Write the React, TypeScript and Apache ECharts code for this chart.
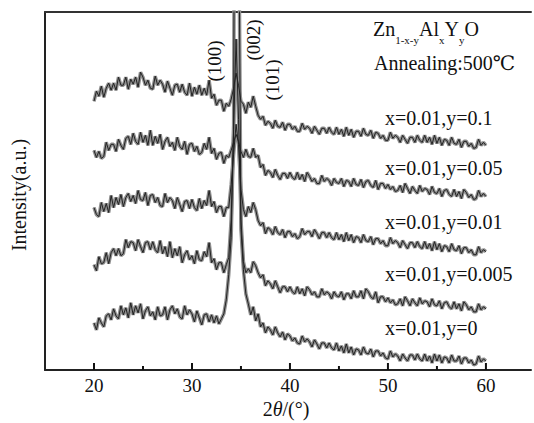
import React, { useEffect, useRef } from "react";
import * as echarts from "echarts";

// 2θ sampling grid: 20° → 60°, every 0.25°
const twoTheta: number[] = Array.from({ length: 161 }, (_, i) => 20 + i * 0.25);

// Intensities (a.u., stacked offsets included), one row per degree (x.00, x.25, x.50, x.75)
const traceY01 = [
  268, 278, 273, 283, 272, 281, 286, 279, 286, 279, 292, 284, 284, 292, 280, 290,
  285, 292, 282, 297, 292, 284, 289, 281, 280, 293, 284, 289, 285, 277, 288, 281,
  274, 284, 285, 277, 285, 277, 274, 286, 273, 282, 275, 284, 274, 281, 274, 289,
  271, 275, 264, 269, 269, 258, 266, 263, 270, 281, 296, 284, 268, 265, 256, 267,
  262, 273, 263, 254, 250, 253, 244, 248, 246, 241, 249, 243, 242, 247, 239, 245,
  245, 240, 243, 238, 238, 246, 240, 243, 241, 236, 243, 239, 235, 241, 241, 236,
  242, 237, 235, 242, 235, 240, 233, 242, 234, 240, 232, 238, 238, 233, 241, 235,
  234, 239, 231, 237, 236, 231, 234, 229, 229, 237, 231, 234, 232, 227, 234, 230,
  226, 232, 232, 227, 234, 229, 227, 234, 227, 232, 225, 234, 226, 232, 224, 230,
  229, 224, 232, 226, 225, 230, 222, 228, 228, 223, 226, 221, 222, 230, 224, 227,
  224,
];
const traceY005 = [
  219, 212, 218, 211, 213, 227, 219, 225, 225, 218, 230, 224, 220, 231, 233, 225,
  236, 228, 225, 237, 227, 234, 224, 239, 224, 233, 226, 235, 220, 228, 232, 223,
  227, 219, 232, 223, 220, 228, 215, 225, 226, 218, 223, 215, 217, 226, 220, 232,
  216, 221, 210, 216, 217, 206, 214, 212, 219, 227, 235, 228, 218, 212, 220, 213,
  212, 221, 212, 214, 202, 205, 194, 199, 197, 192, 200, 194, 190, 196, 196, 191,
  197, 192, 190, 197, 190, 195, 188, 197, 193, 188, 191, 186, 186, 194, 188, 191,
  189, 184, 191, 187, 186, 191, 183, 189, 188, 183, 191, 185, 184, 190, 182, 188,
  189, 184, 182, 189, 180, 186, 186, 181, 185, 180, 183, 178, 179, 184, 177, 186,
  181, 176, 183, 179, 176, 184, 178, 181, 180, 175, 183, 177, 176, 181, 173, 179,
  180, 175, 173, 180, 173, 178, 171, 180, 177, 172, 175, 170, 171, 179, 173, 176,
  173,
];
const traceY001 = [
  162, 155, 153, 167, 158, 166, 157, 174, 162, 172, 165, 175, 163, 172, 176, 168,
  174, 166, 179, 170, 169, 177, 164, 174, 175, 167, 172, 164, 163, 176, 167, 172,
  169, 161, 172, 165, 158, 168, 169, 161, 170, 162, 159, 171, 161, 169, 164, 179,
  163, 168, 157, 163, 163, 153, 162, 162, 185, 215, 245, 225, 180, 160, 153, 163,
  157, 167, 160, 149, 144, 147, 136, 142, 140, 135, 143, 137, 135, 140, 132, 138,
  138, 133, 136, 131, 133, 141, 135, 138, 138, 133, 140, 136, 131, 137, 137, 132,
  137, 132, 130, 137, 130, 135, 128, 137, 129, 135, 127, 133, 132, 127, 135, 129,
  128, 133, 125, 131, 131, 126, 129, 124, 124, 132, 126, 129, 127, 122, 129, 125,
  121, 127, 127, 122, 128, 123, 121, 128, 121, 126, 119, 128, 120, 126, 118, 124,
  123, 118, 126, 120, 119, 124, 116, 122, 122, 117, 120, 115, 115, 123, 117, 120,
  118,
];
const traceY0005 = [
  105, 99, 113, 106, 107, 117, 106, 117, 121, 114, 121, 114, 116, 130, 122, 128,
  127, 119, 130, 123, 117, 127, 128, 120, 128, 120, 117, 129, 116, 123, 113, 128,
  112, 121, 114, 123, 107, 115, 119, 110, 114, 106, 119, 110, 109, 118, 113, 127,
  107, 111, 100, 107, 107, 97, 105, 112, 150, 240, 330, 250, 150, 108, 97, 101,
  97, 108, 104, 97, 92, 95, 84, 89, 86, 81, 89, 83, 77, 83, 83, 78,
  83, 78, 76, 83, 76, 81, 74, 83, 80, 75, 78, 73, 73, 81, 75, 78,
  76, 71, 78, 74, 73, 78, 70, 76, 76, 71, 79, 73, 73, 79, 71, 81,
  78, 73, 71, 78, 67, 73, 73, 68, 72, 67, 70, 65, 66, 71, 64, 73,
  69, 64, 71, 67, 64, 72, 66, 69, 68, 63, 71, 65, 64, 69, 61, 67,
  68, 63, 61, 68, 61, 66, 59, 68, 65, 60, 63, 58, 58, 66, 60, 63,
  61,
];
const traceY0 = [
  47, 40, 52, 47, 43, 54, 56, 50, 61, 54, 51, 64, 55, 62, 52, 67,
  55, 64, 57, 66, 51, 59, 63, 54, 58, 50, 63, 54, 55, 63, 50, 60,
  64, 56, 61, 53, 51, 64, 55, 60, 56, 48, 59, 52, 45, 55, 56, 48,
  55, 47, 54, 46, 51, 56, 70, 95, 132, 240, 1000, 500, 140, 100, 76, 66,
  55, 63, 49, 56, 43, 47, 37, 43, 40, 35, 43, 37, 33, 38, 30, 36,
  34, 29, 32, 27, 26, 34, 28, 31, 28, 23, 30, 26, 21, 27, 27, 22,
  27, 22, 20, 27, 19, 24, 17, 26, 17, 23, 15, 21, 20, 15, 23, 17,
  16, 21, 13, 19, 19, 14, 17, 12, 11, 19, 13, 16, 14, 9, 16, 12,
  9, 15, 15, 10, 16, 11, 9, 16, 9, 14, 7, 16, 9, 15, 7, 13,
  12, 7, 15, 9, 9, 14, 6, 12, 12, 7, 10, 5, 6, 14, 8, 11,
  9,
];

const traces = [traceY01, traceY005, traceY001, traceY0005, traceY0];
const traceLabels = ["x=0.01,y=0.1", "x=0.01,y=0.05", "x=0.01,y=0.01", "x=0.01,y=0.005", "x=0.01,y=0"];
const majorTicks = [20, 30, 40, 50, 60];
const minorTicks = [25, 35, 45, 55];
const peakLabels = ["(100)", "(002)", "(101)"];

const FONT = "'Liberation Serif', 'DejaVu Serif', 'Times New Roman', serif";

export default function App() {
  const ref = useRef<HTMLDivElement>(null);
  useEffect(() => {
    if (!ref.current) return;
    const chart = echarts.init(ref.current, undefined, { renderer: "svg" });
    const labelY = [118, 168, 222, 274, 328];
    const peakPos = [
      [214, 61],
      [253, 40],
      [272, 80],
    ];
    const textStyle = (t: string, size: number, align: string) => ({
      text: t,
      fontSize: size,
      fontFamily: FONT,
      fill: "#111",
      textAlign: align,
      textVerticalAlign: "middle",
      align: align,
      verticalAlign: "middle",
    });
    const traceData = traces.map((arr) => twoTheta.map((x, i) => [x, arr[i]]));
    const texts: any[] = [
      {
        type: "text",
        x: 373,
        y: 19,
        style: {
          text: "{m|Zn}{s|1-x-y}{m|Al}{s|x}{m|Y}{s|y}{m|O}",
          fill: "#111",
          rich: {
            m: { fontSize: 20, fontFamily: FONT, fill: "#111", verticalAlign: "bottom", padding: [0, 0, 6, 0] },
            s: { fontSize: 11, fontFamily: FONT, fill: "#111", verticalAlign: "bottom" },
          },
        },
      },
      { type: "text", x: 374, y: 63, style: textStyle("Annealing:500℃", 20, "left") },
      ...traceLabels.map((t, i) => ({
        type: "text",
        x: 385,
        y: labelY[i],
        style: textStyle(t, 20, "left"),
      })),
      ...peakLabels.map((t, i) => ({
        type: "text",
        x: peakPos[i][0],
        y: peakPos[i][1],
        rotation: Math.PI / 2,
        style: textStyle(t, 19, "center"),
      })),
      {
        type: "text",
        x: 19,
        y: 195,
        rotation: Math.PI / 2,
        style: textStyle("Intensity(a.u.)", 20, "center"),
      },
      {
        type: "text",
        x: 286,
        y: 409,
        style: {
          ...textStyle("2{i|θ}/(°)", 20, "center"),
          rich: { i: { fontSize: 20, fontFamily: FONT, fontStyle: "italic", fill: "#111" } },
        },
      },
    ];
    chart.setOption({
      animation: false,
      backgroundColor: "#ffffff",
      grid: { left: 45, right: 0, top: 12, bottom: 53, containLabel: false },
      xAxis: [
        {
          type: "value",
          min: 15,
          max: 64.6,
          interval: 5,
          position: "bottom",
          axisLine: { show: true, onZero: false, lineStyle: { color: "#222", width: 2 } },
          axisTick: { show: false },
          axisLabel: {
            show: true,
            color: "#111",
            fontSize: 19,
            fontFamily: FONT,
            margin: 6,
            formatter: (v: number) => (majorTicks.indexOf(v) >= 0 ? String(v) : ""),
          },
          splitLine: { show: false },
        },
        {
          type: "value",
          min: 15,
          max: 64.6,
          position: "top",
          axisLine: { show: true, onZero: false, lineStyle: { color: "#333", width: 2 } },
          axisTick: { show: false },
          axisLabel: { show: false },
          splitLine: { show: false },
        },
      ],
      yAxis: {
        type: "value",
        min: 0,
        max: 357,
        axisLine: { show: true, onZero: false, lineStyle: { color: "#222", width: 2 } },
        axisTick: { show: false },
        axisLabel: { show: false },
        splitLine: { show: false },
      },
      series: [
        ...traceData.map((d) => ({
          type: "line",
          xAxisIndex: 0,
          data: d,
          symbol: "none",
          showSymbol: false,
          silent: true,
          clip: true,
          z: 1,
          lineStyle: { color: "#8f8f8f", width: 3.5 },
        })),
        ...traceData.map((d) => ({
          type: "line",
          xAxisIndex: 0,
          data: d,
          symbol: "none",
          showSymbol: false,
          silent: true,
          clip: true,
          z: 2,
          lineStyle: { color: "#222", width: 1 },
        })),
      ],
      graphic: texts,
    });
    // axis tick marks placed through the axis scale
    const tickEl = (v: number, len: number) => {
      const p = chart.convertToPixel({ xAxisIndex: 0, yAxisIndex: 0 }, [v, 0]) as number[];
      return {
        type: "line",
        z: 100,
        silent: true,
        shape: { x1: p[0], y1: p[1], x2: p[0], y2: p[1] - len },
        style: { stroke: "#111", lineWidth: 2 },
      };
    };
    chart.setOption({
      graphic: [
        ...texts,
        ...majorTicks.map((v) => tickEl(v, 7)),
        ...minorTicks.map((v) => tickEl(v, 4)),
      ],
    });
    return () => chart.dispose();
  }, []);
  return (
    <div
      ref={ref}
      style={{ position: "fixed", left: 0, top: 0, width: 534, height: 423, background: "#fff" }}
    />
  );
}
